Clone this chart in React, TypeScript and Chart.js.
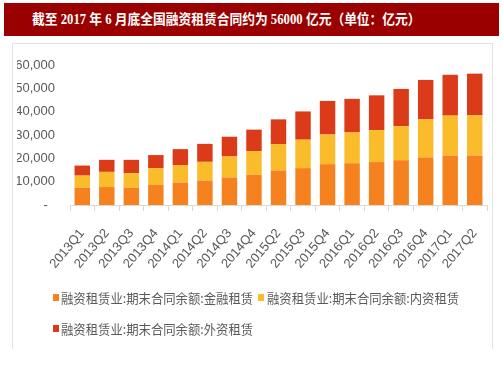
import React, { useEffect, useRef } from "react";
import { Chart, registerables } from "chart.js";

Chart.register(...registerables);

const categories = [
  "2013Q1", "2013Q2", "2013Q3", "2013Q4",
  "2014Q1", "2014Q2", "2014Q3", "2014Q4",
  "2015Q2", "2015Q3", "2015Q4",
  "2016Q1", "2016Q2", "2016Q3", "2016Q4",
  "2017Q1", "2017Q2",
];

const financialLeasing = [7400, 7700, 7400, 8700, 9600, 10500, 11800, 13000, 14800, 15800, 17500, 17900, 18400, 19200, 20400, 21200, 21200];
const domesticLeasing = [5200, 6500, 6200, 7100, 7500, 8000, 9000, 10100, 11300, 12200, 12700, 13200, 13700, 14600, 16300, 17100, 17200];
const foreignLeasing = [4300, 5150, 5750, 5600, 6850, 7700, 8450, 9200, 10600, 12100, 14400, 14400, 14900, 15950, 16900, 17500, 17900];

const seriesNames = [
  "融资租赁业:期末合同余额:金融租赁",
  "融资租赁业:期末合同余额:内资租赁",
  "融资租赁业:期末合同余额:外资租赁",
];
const seriesColors = ["#F5821F", "#FBBC2B", "#DC3B19"];

const yTicks = [0, 10000, 20000, 30000, 40000, 50000, 60000];

const title = "截至 2017 年 6 月底全国融资租赁合同约为 56000 亿元（单位：亿元）";

export default function App() {
  const ref = useRef<HTMLCanvasElement | null>(null);

  useEffect(() => {
    if (!ref.current) return;
    const chart = new Chart(ref.current, {
      type: "bar",
      data: {
        labels: categories,
        datasets: [
          { label: seriesNames[0], data: financialLeasing, backgroundColor: seriesColors[0] },
          { label: seriesNames[1], data: domesticLeasing, backgroundColor: seriesColors[1] },
          { label: seriesNames[2], data: foreignLeasing, backgroundColor: seriesColors[2] },
        ],
      },
      options: {
        responsive: false,
        animation: false,
        layout: { padding: { left: 17, right: 16, top: 65, bottom: 0 } },
        datasets: { bar: { categoryPercentage: 1, barPercentage: 0.63 } },
        plugins: {
          legend: { display: false },
          tooltip: { enabled: false },
        },
        scales: {
          x: {
            stacked: true,
            grid: {
              display: true,
              drawOnChartArea: false,
              drawTicks: true,
              tickLength: 6,
              color: "#d9d9d9",
              offset: true,
            },
            border: { display: true, color: "#d9d9d9", width: 1 },
            ticks: {
              minRotation: 50,
              maxRotation: 50,
              color: "#595959",
              font: { family: "Liberation Sans, Arial, sans-serif", size: 13 },
              padding: 15,
              autoSkip: false,
            },
            afterFit: (scale: any) => {
              scale.height = 173;
            },
          },
          y: {
            stacked: true,
            min: 0,
            max: 60000,
            grid: { display: false, drawTicks: false },
            border: { display: false },
            afterBuildTicks: (scale: any) => {
              scale.ticks = yTicks.map((v) => ({ value: v }));
            },
            ticks: {
              color: "#595959",
              padding: 15,
              font: { family: "Liberation Sans, Arial, sans-serif", size: 13 },
              callback: (v: any) => (Number(v) === 0 ? "-  " : Number(v).toLocaleString("en-US")),
            },
            afterFit: (scale: any) => {
              scale.width = 53;
            },
          },
        },
      },
    });
    return () => chart.destroy();
  }, []);

  const legendText: React.CSSProperties = {
    position: "absolute",
    fontFamily: "'Noto Sans CJK SC', sans-serif",
    fontSize: 13,
    color: "#595959",
    whiteSpace: "nowrap",
    transform: "scaleX(0.95)",
    transformOrigin: "left center",
    lineHeight: "16px",
  };
  const marker = (color: string, left: number, top: number): React.CSSProperties => ({
    position: "absolute",
    left,
    top,
    width: 6,
    height: 7,
    background: color,
  });

  return (
    <div style={{ position: "absolute", left: 0, top: 0, width: 503, height: 378, background: "#fff", overflow: "hidden" }}>
      <div
        style={{
          position: "absolute",
          left: 4,
          top: 3,
          width: 495,
          height: 33,
          background: "#9A0000",
        }}
      />
      <div
        style={{
          position: "absolute",
          left: 32,
          top: 3,
          height: 33,
          color: "#fff",
          fontFamily: "'Liberation Serif', 'Noto Sans CJK SC', serif",
          fontWeight: "bold",
          fontSize: 14,
          lineHeight: "33px",
          whiteSpace: "nowrap",
          transform: "scaleX(0.91)",
          transformOrigin: "left center",
        }}
      >
        {title}
      </div>
      <div
        style={{
          position: "absolute",
          left: 12,
          top: 43,
          width: 479,
          height: 305,
          borderLeft: "1px solid #e3e3e3",
          borderRight: "1px solid #e3e3e3",
          borderTop: "1px solid #e3e3e3",
        }}
      />
      <canvas ref={ref} width={503} height={378} style={{ position: "absolute", left: 0, top: 0, width: 503, height: 378 }} />
      <div style={marker(seriesColors[0], 53, 294)} />
      <div style={{ ...legendText, left: 61, top: 290 }}>{seriesNames[0]}</div>
      <div style={marker(seriesColors[1], 258, 294)} />
      <div style={{ ...legendText, left: 267, top: 290 }}>{seriesNames[1]}</div>
      <div style={marker(seriesColors[2], 53, 325)} />
      <div style={{ ...legendText, left: 61, top: 321 }}>{seriesNames[2]}</div>
    </div>
  );
}
